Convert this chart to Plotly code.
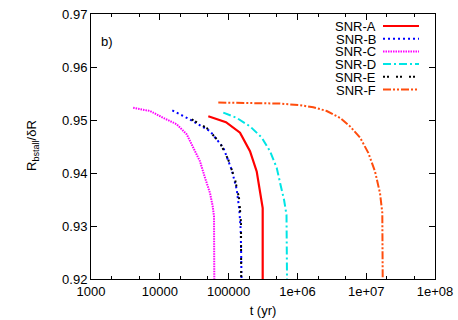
import plotly.graph_objects as go

# t (yr) and Rbstall/dR
names = ["SNR-A", "SNR-B", "SNR-C", "SNR-D", "SNR-E", "SNR-F"]

tA = [50700, 91650, 146500, 204700, 256100, 286000, 313000, 313000]
rA = [0.9507, 0.9496, 0.9476, 0.9441, 0.9403, 0.9365, 0.9334, 0.9200]

tB = [15200, 27480, 53650, 83750, 110900, 131160, 143000, 149900, 152400, 154000]
rB = [0.9518, 0.9501, 0.9479, 0.9448, 0.9406, 0.9369, 0.9331, 0.9293, 0.9245, 0.9200]

tC = [4100, 7211, 11246, 17620, 24600, 30690, 38370, 45400, 53700, 58750, 61380, 61940]
rC = [0.9523, 0.9517, 0.9504, 0.9492, 0.9473, 0.9448, 0.9422, 0.9391, 0.9362, 0.9337, 0.9318, 0.9200]

tD = [83750, 131160, 204700, 302900, 399600, 500300, 568100, 638700, 694500, 706200]
rD = [0.9514, 0.9504, 0.9488, 0.9467, 0.9441, 0.9410, 0.9378, 0.9350, 0.9321, 0.9200]

tE = [29090, 48040, 74990, 99000, 123900, 143000, 151400, 152500]
rE = [0.9501, 0.9485, 0.9457, 0.9425, 0.9388, 0.9350, 0.9305, 0.9200]

tF = [70850, 204700, 558500, 1.091e6, 1.702e6, 2.667e6, 4.160e6, 5.814e6, 8.124e6,
      1.073e7, 1.343e7, 1.587e7, 1.714e7, 1.737e7]
rF = [0.9533, 0.9532, 0.9531, 0.9528, 0.9524, 0.9517, 0.9504, 0.9488, 0.9467,
      0.9438, 0.9403, 0.9362, 0.9325, 0.9200]

xTickVals = [1e3, 1e4, 1e5, 1e6, 1e7, 1e8]
xTickText = ["1000", "10000", "100000", "1e+06", "1e+07", "1e+08"]
yTickVals = [0.92, 0.93, 0.94, 0.95, 0.96, 0.97]
yTickText = ["0.92", "0.93", "0.94", "0.95", "0.96", "0.97"]

series = [(tA, rA), (tB, rB), (tC, rC), (tD, rD), (tE, rE), (tF, rF)]
colors = ["#ff0000", "#0000ff", "#ff00ff", "#00e5e5", "#000000", "#ff4d0d"]
dashes = ["solid", "2px,3px", "1.5px,1px", "8px,3px,2px,3px", "2px,2px,2px,7px",
          "8px,2px,2px,2px,2px,2px"]
widths = [2.2, 2, 2, 2, 2, 2]

W, H = 458, 320
L, R, T, B = 91, 23, 14, 41
pw, ph = W - L - R, H - T - B

def px2x(px):
    return (px - L) / pw

def py2y(py):
    return 1 - (py - T) / ph

font = "Liberation Sans, Arial, sans-serif"
fig = go.Figure()
for (t, r), name, c, d, w in zip(series, names, colors, dashes, widths):
    fig.add_trace(go.Scatter(x=t, y=r, mode="lines", name=name, showlegend=False,
                             line=dict(color=c, dash=d, width=w)))

# gnuplot-like key: text right-aligned, sample to the right
keyTop = 26
keyStep = 12.7
for i, (name, c, d, w) in enumerate(zip(names, colors, dashes, widths)):
    yp = py2y(keyTop + i * keyStep)
    fig.add_annotation(x=px2x(377), y=yp, xref="paper", yref="paper", text=name,
                       showarrow=False, xanchor="right", yanchor="middle", height=12,
                       borderpad=0, font=dict(family=font, size=13, color="black"))
    fig.add_shape(type="line", xref="paper", yref="paper",
                  x0=px2x(383), x1=px2x(419), y0=yp, y1=yp,
                  line=dict(color=c, dash=d, width=w))

fig.add_annotation(x=px2x(99), y=py2y(42), xref="paper", yref="paper",
                   text="b)", showarrow=False, xanchor="left", yanchor="middle",
                   font=dict(family=font, size=13, color="black"))

# y axis title placed as a rotated annotation
fig.add_annotation(x=px2x(32), y=py2y(146), xref="paper", yref="paper",
                   text="R<sub>bstall</sub>/δR", textangle=-90, showarrow=False,
                   xanchor="center", yanchor="middle",
                   font=dict(family=font, size=13, color="black"))

axisCommon = dict(showline=True, linecolor="black", linewidth=1, mirror="allticks",
                  ticks="inside", ticklen=6, tickcolor="black", showgrid=False, zeroline=False,
                  automargin=False, ticklabeloverflow="allow",
                  tickfont=dict(family=font, size=13, color="black"))
fig.update_xaxes(type="log", range=[3, 8], tickvals=xTickVals, ticktext=xTickText,
                 minor=dict(ticks="inside", ticklen=3, tickcolor="black", showgrid=False),
                 title=dict(text="t (yr)", font=dict(family=font, size=13, color="black"), standoff=8),
                 **axisCommon)
fig.update_yaxes(range=[0.92, 0.97], tickvals=yTickVals, ticktext=yTickText, **axisCommon)
fig.update_layout(width=W, height=H, margin=dict(l=L, r=R, t=T, b=B),
                  paper_bgcolor="white", plot_bgcolor="white", showlegend=False)
# drop the browser's default body margin so the figure sits at the page corner
fig.write_html("out.html", config={"displayModeBar": False},
               post_script="document.body.style.margin='0';")
